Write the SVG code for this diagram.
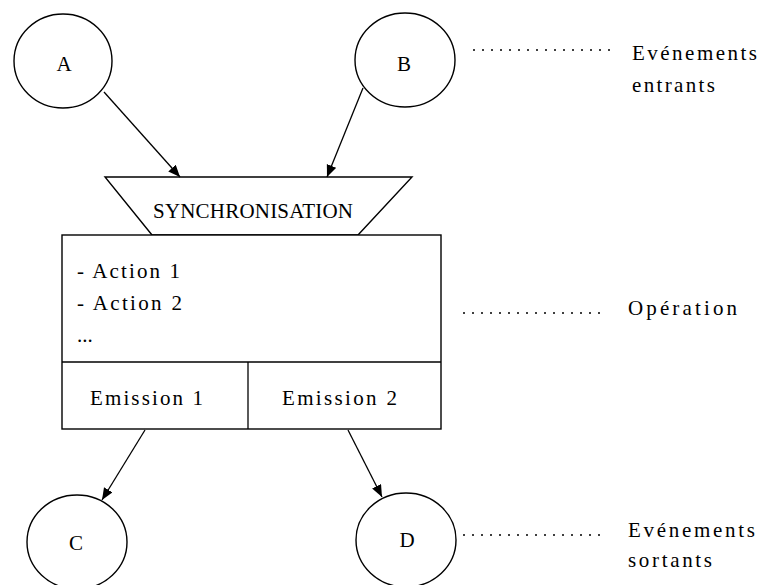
<svg xmlns="http://www.w3.org/2000/svg" width="762" height="585" viewBox="0 0 762 585">
<style>
  .sh { fill: #ffffff; stroke: #000000; stroke-width: 1.4; }
  .ln { fill: none; stroke: #000000; stroke-width: 1.3; }
  .dot { fill: none; stroke: #000000; stroke-width: 1.3; stroke-dasharray: 2 7; }
  text { font-family: "Liberation Serif", "Times New Roman", serif; font-size: 21px; fill: #000000; }
  .c { text-anchor: middle; }
</style>
<defs>
  <marker id="arr" markerUnits="userSpaceOnUse" markerWidth="13" markerHeight="11" refX="12" refY="5" orient="auto">
    <path d="M0,0 L12,5 L0,10 Z" fill="#000000"/>
  </marker>
</defs>
<rect width="762" height="585" fill="#ffffff"/>

<g id="node-A">
  <ellipse class="sh" cx="63" cy="61" rx="49" ry="47"/>
  <text class="c" x="64" y="71">A</text>
</g>
<g id="node-B">
  <ellipse class="sh" cx="405" cy="60" rx="50" ry="47"/>
  <text class="c" x="404" y="71">B</text>
</g>
<g id="node-sync">
  <polygon class="sh" points="105,177 412,177 358,235 152,235"/>
  <text x="153" y="218" font-size="20" textLength="200" lengthAdjust="spacing">SYNCHRONISATION</text>
</g>
<g id="node-operation">
  <rect class="sh" x="62" y="235" width="379" height="194"/>
  <line class="ln" x1="62" y1="362" x2="441" y2="362"/>
  <line class="ln" x1="248" y1="362" x2="248" y2="429"/>
  <text x="77" y="278" textLength="103" lengthAdjust="spacing">- Action 1</text>
  <text x="77" y="310" textLength="105" lengthAdjust="spacing">- Action 2</text>
  <text x="77" y="342">...</text>
  <text x="90" y="405" textLength="113" lengthAdjust="spacing">Emission 1</text>
  <text x="282" y="405" textLength="115" lengthAdjust="spacing">Emission 2</text>
</g>
<g id="node-C">
  <ellipse class="sh" cx="77" cy="542" rx="50" ry="47"/>
  <text class="c" x="76" y="550">C</text>
</g>
<g id="node-D">
  <ellipse class="sh" cx="406" cy="540" rx="50" ry="47"/>
  <text class="c" x="407" y="547">D</text>
</g>

<g id="connectors">
  <line class="ln" x1="104" y1="92" x2="180" y2="177" marker-end="url(#arr)"/>
  <line class="ln" x1="363" y1="88" x2="327" y2="177" marker-end="url(#arr)"/>
  <line class="ln" x1="145" y1="430" x2="102" y2="500" marker-end="url(#arr)"/>
  <line class="ln" x1="348" y1="430" x2="382" y2="497" marker-end="url(#arr)"/>
</g>

<g id="legend">
  <line class="dot" x1="473" y1="50" x2="614" y2="50"/>
  <text x="632" y="60" textLength="125" lengthAdjust="spacing">Evénements</text>
  <text x="632" y="92" textLength="83" lengthAdjust="spacing">entrants</text>
  <line class="dot" x1="463" y1="313" x2="604" y2="313"/>
  <text x="628" y="315" textLength="109" lengthAdjust="spacing">Opération</text>
  <line class="dot" x1="463" y1="535" x2="604" y2="535"/>
  <text x="628" y="537" textLength="127" lengthAdjust="spacing">Evénements</text>
  <text x="628" y="567" textLength="84" lengthAdjust="spacing">sortants</text>
</g>
</svg>
